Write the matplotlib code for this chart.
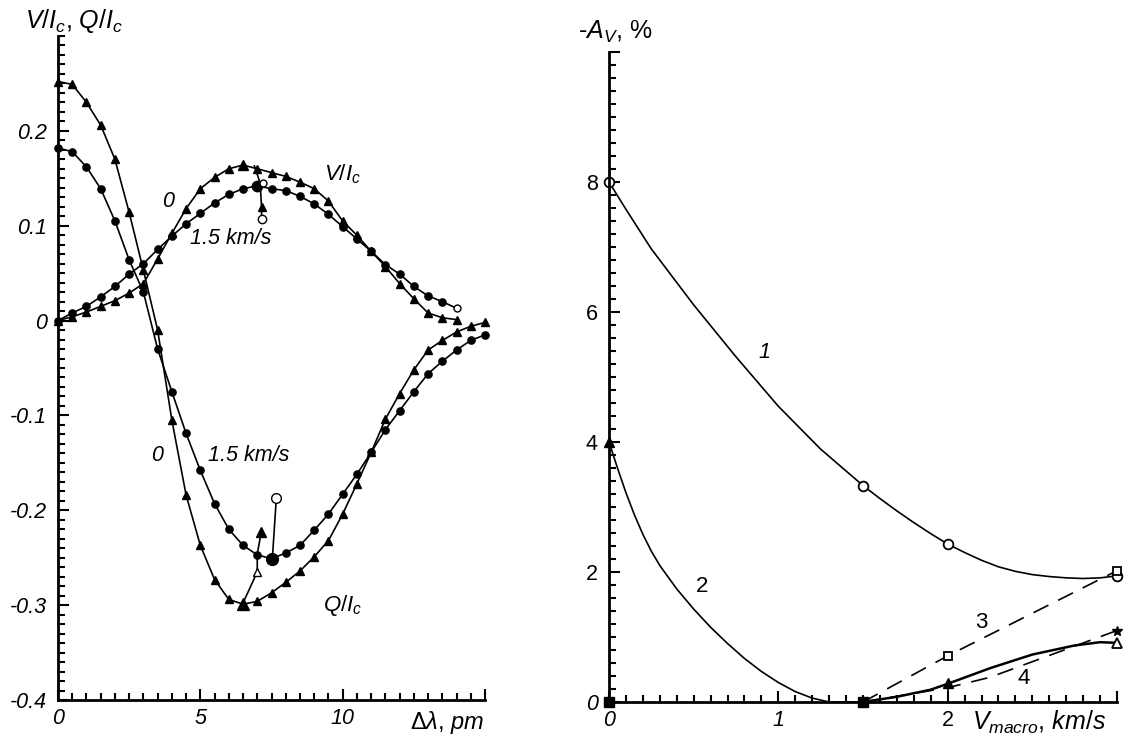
import matplotlib
matplotlib.use('Agg')
import matplotlib.pyplot as plt
from matplotlib.ticker import MultipleLocator, FixedLocator, FixedFormatter

plt.rcParams['font.family'] = ['Liberation Sans', 'DejaVu Sans']
plt.rcParams['mathtext.fontset'] = 'custom'
plt.rcParams['mathtext.rm'] = 'Liberation Sans'
plt.rcParams['mathtext.it'] = 'Liberation Sans:italic'
plt.rcParams['lines.solid_joinstyle'] = 'round'

# ---------------- Left panel data (Stokes profiles) ----------------
dlam_q = [0, 0.5, 1, 1.5, 2, 2.5, 3, 3.5, 4, 4.5, 5, 5.5, 6, 6.5, 7, 7.5,
          8, 8.5, 9, 9.5, 10, 10.5, 11, 11.5, 12, 12.5, 13, 13.5, 14, 14.5, 15]
q_v0 = [0.252, 0.249, 0.230, 0.206, 0.170, 0.114, 0.053, -0.010, -0.105, -0.184,
        -0.237, -0.273, -0.294, -0.299, -0.296, -0.287, -0.276, -0.264, -0.249,
        -0.232, -0.204, -0.172, -0.139, -0.104, -0.077, -0.052, -0.031, -0.021,
        -0.012, -0.006, -0.002]
q_v15 = [0.182, 0.178, 0.162, 0.139, 0.105, 0.064, 0.030, -0.030, -0.075, -0.119,
         -0.158, -0.193, -0.220, -0.237, -0.247, -0.251, -0.245, -0.237, -0.221,
         -0.204, -0.183, -0.162, -0.139, -0.115, -0.095, -0.075, -0.056, -0.043,
         -0.031, -0.021, -0.015]
dlam_v = [0, 0.5, 1, 1.5, 2, 2.5, 3, 3.5, 4, 4.5, 5, 5.5, 6, 6.5, 7, 7.5,
          8, 8.5, 9, 9.5, 10, 10.5, 11, 11.5, 12, 12.5, 13, 13.5, 14]
v_v0 = [0.0, 0.004, 0.009, 0.015, 0.021, 0.029, 0.039, 0.065, 0.092, 0.118,
        0.139, 0.151, 0.160, 0.164, 0.160, 0.156, 0.152, 0.146, 0.139, 0.126,
        0.105, 0.090, 0.073, 0.057, 0.039, 0.023, 0.008, 0.003, 0.001]
v_v15 = [0.0, 0.008, 0.015, 0.025, 0.036, 0.049, 0.060, 0.075, 0.089, 0.102,
         0.113, 0.124, 0.133, 0.139, 0.142, 0.139, 0.137, 0.131, 0.123, 0.112,
         0.099, 0.086, 0.073, 0.059, 0.049, 0.036, 0.026, 0.020, 0.013]
# short branches near the extrema
v_branch_x = [6.9, 7.1, 7.15, 7.15]
v_branch_y = [0.163, 0.145, 0.120, 0.107]
q_branch1_x = [6.48, 7.0, 7.0, 7.14]
q_branch1_y = [-0.299, -0.265, -0.246, -0.223]
q_branch2_x = [7.53, 7.67]
q_branch2_y = [-0.251, -0.187]

# ---------------- Right panel data (asymmetry vs macro velocity) ----------------
c1_x = [0, 0.1, 0.25, 0.5, 0.75, 1.0, 1.25, 1.5, 1.6, 1.7, 1.8, 1.9, 2.0, 2.1,
        2.2, 2.3, 2.4, 2.5, 2.6, 2.7, 2.8, 2.9, 3.0]
c1_y = [8.0, 7.58, 6.97, 6.11, 5.31, 4.55, 3.89, 3.33, 3.13, 2.94, 2.76, 2.59,
        2.43, 2.30, 2.18, 2.08, 2.01, 1.96, 1.93, 1.91, 1.90, 1.91, 1.94]
c1_mx = [0, 1.5, 2.0, 3.0]
c1_my = [8.0, 3.33, 2.43, 1.94]
c2_x = [0, 0.05, 0.1, 0.15, 0.2, 0.25, 0.3, 0.4, 0.5, 0.6, 0.7, 0.8, 0.9, 1.0,
        1.1, 1.2, 1.3, 1.5]
c2_y = [4.0, 3.6, 3.22, 2.88, 2.58, 2.32, 2.10, 1.74, 1.43, 1.15, 0.90, 0.67,
        0.47, 0.30, 0.16, 0.06, 0.0, 0.0]
c3_x = [1.5, 2.0, 3.0]
c3_y = [0.0, 0.71, 2.02]
c4s_x = [1.5, 1.7, 1.9, 2.0, 2.25, 2.5, 2.75, 2.9, 3.0]
c4s_y = [0.0, 0.08, 0.19, 0.28, 0.52, 0.73, 0.87, 0.92, 0.91]
c4d_x = [1.5, 2.0, 2.25, 2.5, 2.75, 3.0]
c4d_y = [0.0, 0.22, 0.38, 0.62, 0.86, 1.10]

fig = plt.figure(figsize=(11.38, 7.41), dpi=100)
ax1 = fig.add_axes([58/1138, 1-700/741, (485-58)/1138, (700-36)/741])
ax2 = fig.add_axes([609/1138, 1-702/741, (1117-609)/1138, (702-52)/741])

lw = 1.2
ms = 5.2
K = dict(color='k', clip_on=False)
# Q profiles
ax1.plot(dlam_q, q_v0, '-', lw=lw, marker='^', ms=ms, **K)
ax1.plot(dlam_q, q_v15, '-', lw=lw, marker='o', ms=ms, **K)
# V profiles
ax1.plot(dlam_v, v_v0, '-', lw=lw, marker='^', ms=ms, **K)
ax1.plot(dlam_v[:-1], v_v15[:-1], '-', lw=lw, marker='o', ms=ms, **K)
ax1.plot(dlam_v[-2:], v_v15[-2:], '-', lw=lw, **K)
ax1.plot(dlam_v[-1], v_v15[-1], 'o', mfc='white', mec='k', ms=5)
# big markers at extrema
ax1.plot([6.5], [0.164], '^', color='k', ms=7.5)
ax1.plot([7.0], [0.142], 'o', color='k', ms=7.5)
ax1.plot([6.5], [-0.299], '^', color='k', ms=8.5)
ax1.plot([7.5], [-0.251], 'o', color='k', ms=8.5)
# branches
ax1.plot(v_branch_x, v_branch_y, '-', color='k', lw=lw)
ax1.plot(v_branch_x[2], v_branch_y[2], '^', color='k', ms=6)
ax1.plot(v_branch_x[3], v_branch_y[3], 'o', mfc='white', mec='k', ms=6)
ax1.plot([7.2], [0.145], 'o', mfc='white', mec='k', ms=5)
ax1.plot(q_branch1_x, q_branch1_y, '-', color='k', lw=lw)
ax1.plot(q_branch1_x[1], q_branch1_y[1], '^', mfc='white', mec='k', ms=6)
ax1.plot(q_branch1_x[3], q_branch1_y[3], '^', color='k', ms=7)
ax1.plot(q_branch2_x, q_branch2_y, '-', color='k', lw=lw)
ax1.plot(q_branch2_x[1], q_branch2_y[1], 'o', mfc='white', mec='k', ms=7)

ax1.set_xlim(0, 15)
ax1.set_ylim(-0.4, 0.3)
ax1.xaxis.set_major_locator(FixedLocator([0, 5, 10, 15]))
ax1.xaxis.set_major_formatter(FixedFormatter(['0', '5', '10', '']))
ax1.xaxis.set_minor_locator(MultipleLocator(0.5))
ax1.yaxis.set_major_locator(FixedLocator([-0.4, -0.3, -0.2, -0.1, 0, 0.1, 0.2]))
ax1.yaxis.set_major_formatter(FixedFormatter(['-0.4', '-0.3', '-0.2', '-0.1', '0', '0.1', '0.2']))
ax1.yaxis.set_minor_locator(MultipleLocator(0.01))

tfont = dict(fontsize=15.5, style='italic')
ax1.text(3.85, 0.125, '0', ha='center', va='center', **tfont)
ax1.text(4.63, 0.087, '1.5 km/s', ha='left', va='center', **tfont)
ax1.text(9.35, 0.154, r'$V/I_c$', ha='left', va='center', fontsize=16)
ax1.text(3.47, -0.142, '0', ha='center', va='center', **tfont)
ax1.text(5.28, -0.142, '1.5 km/s', ha='left', va='center', **tfont)
ax1.text(9.3, -0.300, r'$Q/I_c$', ha='left', va='center', fontsize=16)

# Right panel
ax2.plot(c1_x, c1_y, '-', lw=lw, **K)
ax2.plot(c1_mx, c1_my, 'o', mfc='white', mec='k', ms=7, mew=1.3, clip_on=False)
ax2.plot(c2_x, c2_y, '-', lw=lw, **K)
ax2.plot([0], [4.0], '^', ms=7, **K)
ax2.plot([0, 1.5], [0, 0], 's', ms=7, **K)
ax2.plot(c3_x, c3_y, '--', lw=lw, dashes=(10, 6.5), **K)
ax2.plot(c3_x[1:], c3_y[1:], 's', mfc='white', mec='k', ms=6, mew=1.3, clip_on=False)
ax2.plot(c4s_x, c4s_y, '-', lw=1.8, **K)
ax2.plot([2.0, 2.0], [0.0, 0.30], '-', lw=lw, **K)
ax2.plot([2.0], [0.30], '^', ms=7, **K)
ax2.plot([3.0], [0.91], '^', mfc='white', mec='k', ms=7, mew=1.3, clip_on=False)
ax2.plot(c4d_x, c4d_y, '--', lw=lw, dashes=(10, 6.5), **K)
ax2.plot([3.0], [1.10], '*', ms=7, **K)

ax2.set_xlim(0, 3)
ax2.set_ylim(0, 10)
ax2.xaxis.set_major_locator(FixedLocator([0, 1, 2, 3]))
ax2.xaxis.set_major_formatter(FixedFormatter(['0', '1', '2', '']))
ax2.xaxis.set_minor_locator(MultipleLocator(0.1))
ax2.yaxis.set_major_locator(FixedLocator([0, 2, 4, 6, 8, 10]))
ax2.yaxis.set_major_formatter(FixedFormatter(['0', '2', '4', '6', '8', '']))
ax2.yaxis.set_minor_locator(MultipleLocator(0.2))

ax2.text(0.92, 5.37, '1', ha='center', va='center', **tfont)
ax2.text(0.55, 1.77, '2', ha='center', va='center', fontsize=16)
ax2.text(2.2, 1.22, '3', ha='center', va='center', fontsize=16)
ax2.text(2.45, 0.36, '4', ha='center', va='center', fontsize=16)

for ax in (ax1, ax2):
    for s in ('top', 'right'):
        ax.spines[s].set_visible(False)
    for s in ('left', 'bottom'):
        ax.spines[s].set_linewidth(2.0)
    ax.tick_params(which='both', direction='in', width=1.5)
    ax.tick_params(which='major', length=8, labelsize=15.5)
    ax.tick_params(which='minor', length=5)
    ax.tick_params(axis='y', pad=8)
    ax.tick_params(axis='x', pad=6)

for lab in ax1.get_xticklabels() + ax1.get_yticklabels():
    lab.set_style('italic')
for lab in ax2.get_xticklabels()[:2]:
    lab.set_style('italic')
ax2.get_yticklabels()[0].set_style('italic')

fig.text(25/1138, 1-21/741, r'$V/I_c$, $Q/I_c$', ha='left', va='center', fontsize=18)
fig.text(410/1138, 1-722/741, r'$\Delta\lambda$, $pm$', ha='left', va='center', fontsize=17)
fig.text(578/1138, 1-32/741, r'-$A_V$, %', ha='left', va='center', fontsize=18)
fig.text(972/1138, 1-722/741, r'$V_{macro}$, $km/s$', ha='left', va='center', fontsize=18)

fig.savefig('out.png', dpi=100)
